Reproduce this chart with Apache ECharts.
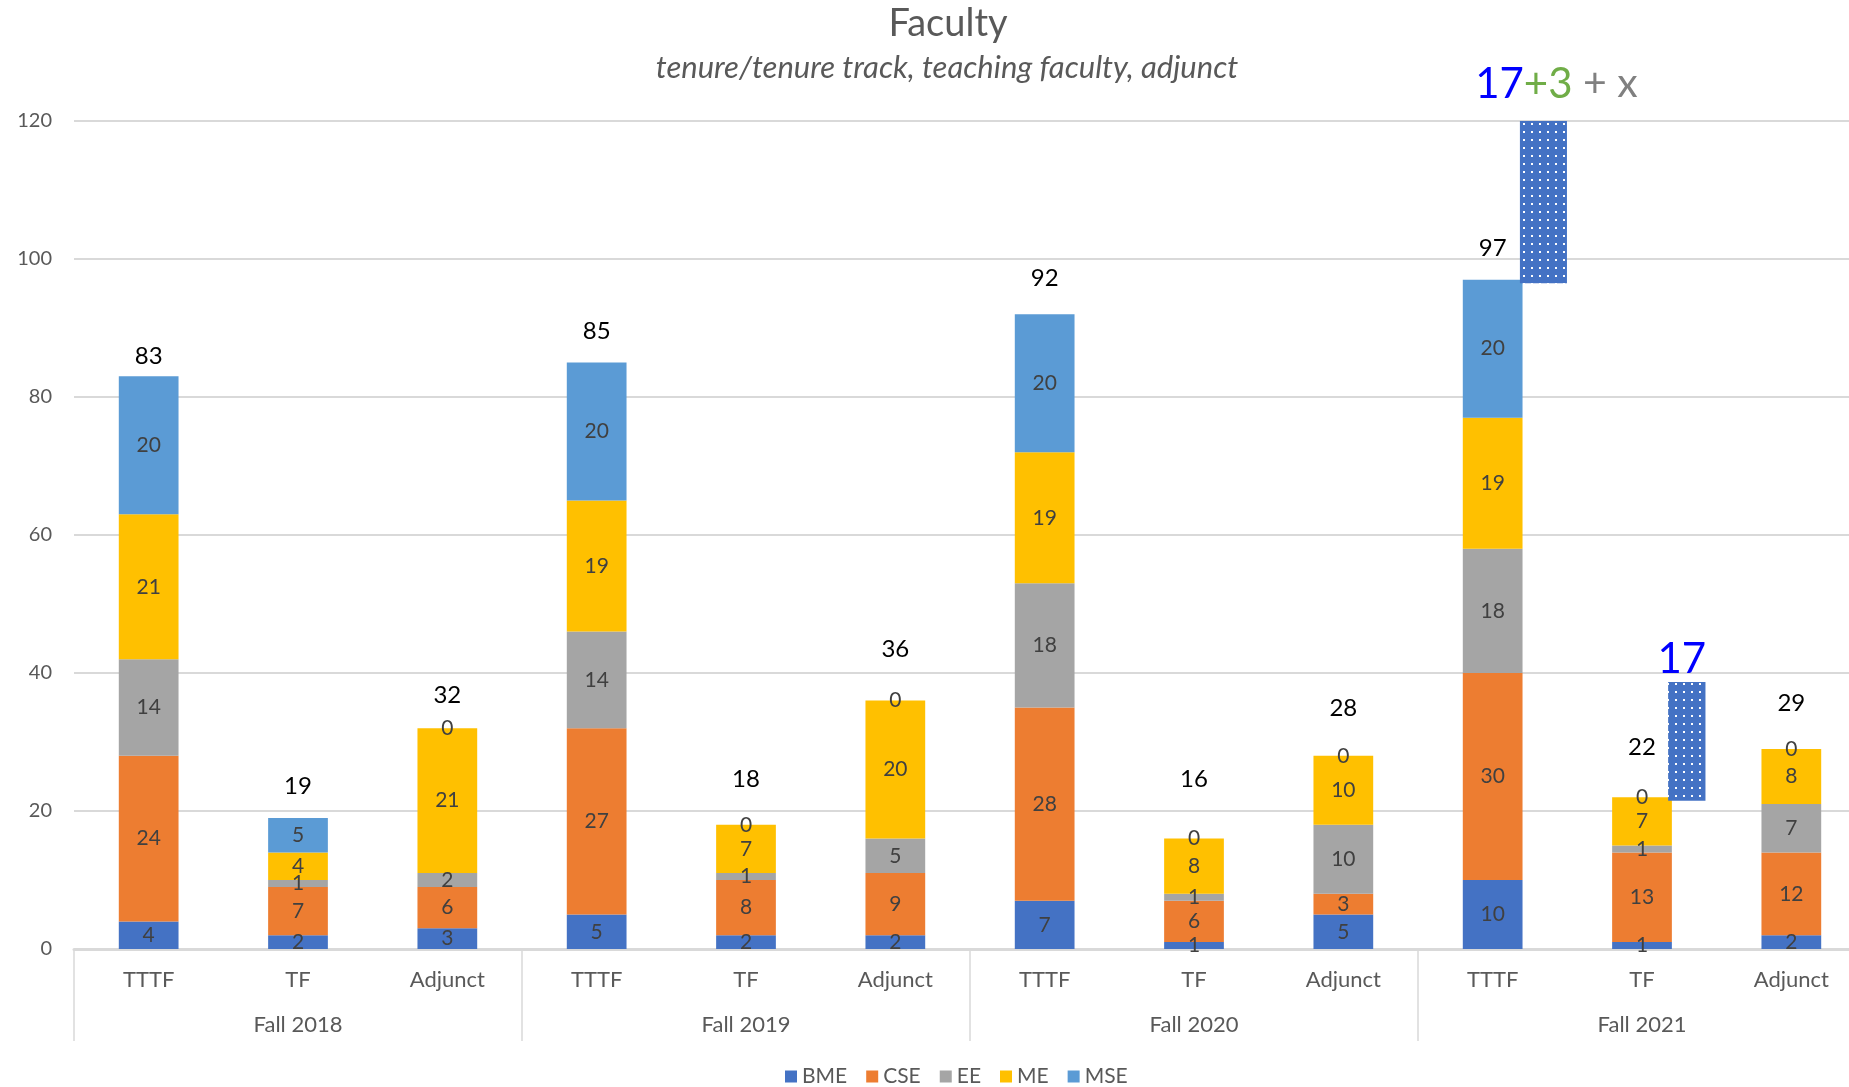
<!DOCTYPE html>
<html>
<head>
<meta charset="utf-8">
<title>Faculty</title>
<script src="https://cdn.jsdelivr.net/npm/echarts@6.0.0/dist/echarts.min.js"></script>
<style>
  html, body { margin: 0; padding: 0; background: #fff; overflow: hidden; }
  #main { width: 1849px; height: 1087px; }
</style>
</head>
<body>
<div id="main"></div>
<script>
// categories
var types = ['TTTF', 'TF', 'Adjunct', 'TTTF', 'TF', 'Adjunct', 'TTTF', 'TF', 'Adjunct', 'TTTF', 'TF', 'Adjunct'];
var terms = ['Fall 2018', 'Fall 2019', 'Fall 2020', 'Fall 2021'];
var depts = ['BME', 'CSE', 'EE', 'ME', 'MSE'];

// values per department, one per bar above
var bme = [4, 2, 3, 5, 2, 2, 7, 1, 5, 10, 1, 2];
var cse = [24, 7, 6, 27, 8, 9, 28, 6, 3, 30, 13, 12];
var ee  = [14, 1, 2, 14, 1, 5, 18, 1, 10, 18, 1, 7];
var me  = [21, 4, 21, 19, 7, 20, 19, 8, 10, 19, 7, 8];
var mse = [20, 5, 0, 20, 0, 0, 20, 0, 0, 20, 0, 0];
var totals = [83, 19, 32, 85, 18, 36, 92, 16, 28, 97, 22, 29];

// dotted "new hires" bars for Fall 2021
var dotCat  = [9, 10];
var dotFrom = [96.5, 21.5];
var dotTo   = [120, 38.7];
var dotNote = ['{b|17}{g|+3}{x| + x}', '{b|17}'];

var colors = ['#4472C4', '#ED7D31', '#A5A5A5', '#FFC000', '#5B9BD5'];
var font = 'Lato, "Open Sans", sans-serif';

// how far each total sits above its stack (px)
var totalLift = [8, 20, 21, 19, 34, 39, 24, 47, 36, 19, 38, 34];

// style of the dotted bars: width and shift as share of category width, note offsets
var dotStyle = [
    { w: 0.315, shift: 0.34, gap: 16, dx: 13 },
    { w: 0.25, shift: 0.30, gap: 2, dx: -5 }
];

var myChart = echarts.init(document.getElementById('main'));

// dotted pattern
var pat = document.createElement('canvas');
pat.width = 8;
pat.height = 8;
var pctx = pat.getContext('2d');
pctx.fillStyle = '#4472C4';
pctx.fillRect(0, 0, 8, 8);
pctx.fillStyle = '#ffffff';
pctx.fillRect(3, 3, 2, 2);

var deptData = [bme, cse, ee, me, mse];
var series = [];

for (var k = 0; k < depts.length; k++) {
    series.push({
        name: depts[k],
        type: 'bar',
        stack: 'all',
        barWidth: '40%',
        itemStyle: { color: colors[k] },
        label: {
            show: true,
            position: 'inside',
            color: '#404040',
            fontSize: 21,
            fontFamily: font
        },
        data: deptData[k]
    });
}

// totals above each stack
series.push({
    name: 'Total',
    type: 'bar',
    stack: 'all',
    barWidth: '40%',
    itemStyle: { color: 'transparent' },
    label: {
        show: true,
        position: 'top',
        color: '#000',
        fontSize: 24,
        fontFamily: font,
        formatter: function (p) { return totals[p.dataIndex]; }
    },
    data: totals.map(function (t, i) {
        return { value: 0, label: { distance: totalLift[i] } };
    })
});

// dotted bars
series.push({
    name: 'new',
    type: 'custom',
    clip: false,
    z: 5,
    encode: { x: 0, y: [1, 2] },
    data: dotCat.map(function (c, i) { return [c, dotFrom[i], dotTo[i]]; }),
    renderItem: function (params, api) {
        var i = params.dataIndex;
        var st = dotStyle[i];
        var lo = api.coord([api.value(0), api.value(1)]);
        var hi = api.coord([api.value(0), api.value(2)]);
        var cw = api.size([1, 0])[0];
        var w = cw * st.w;
        var cx = lo[0] + cw * st.shift;
        return {
            type: 'group',
            children: [{
                type: 'rect',
                shape: { x: cx - w / 2, y: hi[1], width: w, height: lo[1] - hi[1] },
                style: { fill: { image: pat, repeat: 'repeat' } }
            }, {
                type: 'text',
                x: cx + st.dx,
                y: hi[1] - st.gap,
                style: {
                    text: dotNote[i],
                    align: 'center',
                    verticalAlign: 'bottom',
                    fontFamily: font,
                    rich: {
                        b: { fontSize: 42, fontFamily: font, fill: '#0000FF' },
                        g: { fontSize: 42, fontFamily: font, fill: '#70AD47' },
                        x: { fontSize: 41, fontFamily: font, fill: '#808080' }
                    }
                }
            }]
        };
    }
});

var option = {
    animation: false,
    color: colors,
    graphic: [{
        type: 'text',
        x: 948,
        y: 24,
        style: {
            text: 'Faculty',
            fill: '#595959',
            font: '38px ' + font,
            align: 'center',
            verticalAlign: 'middle'
        }
    }, {
        type: 'text',
        x: 947,
        y: 68,
        style: {
            text: 'tenure/tenure track, teaching faculty, adjunct',
            fill: '#595959',
            font: 'italic 31px ' + font,
            align: 'center',
            verticalAlign: 'middle'
        }
    }],
    legend: {
        data: depts,
        bottom: -5,
        left: 780,
        icon: 'rect',
        itemWidth: 12,
        itemHeight: 12,
        itemGap: 19,
        textStyle: { color: '#595959', fontSize: 21, fontFamily: font }
    },
    grid: {
        left: 74,
        top: 121,
        width: 1792,
        bottom: 138,
        outerBoundsMode: 'none',
        containLabel: false
    },
    xAxis: [{
        type: 'category',
        data: types,
        axisLine: { lineStyle: { color: '#D9D9D9', width: 3 } },
        axisTick: { show: false },
        axisLabel: { color: '#595959', fontSize: 22, fontFamily: font, margin: 20 }
    }, {
        type: 'category',
        data: terms,
        position: 'bottom',
        axisLine: { show: false },
        axisTick: { show: true, length: 92, lineStyle: { color: '#D9D9D9', width: 1.5 } },
        axisLabel: { color: '#595959', fontSize: 22, fontFamily: font, margin: 65 }
    }],
    yAxis: {
        type: 'value',
        min: 0,
        max: 120,
        interval: 20,
        axisLine: { show: false },
        axisTick: { show: false },
        splitLine: { lineStyle: { color: '#D9D9D9', width: 2 } },
        axisLabel: { color: '#595959', fontSize: 20, fontFamily: font, margin: 22 }
    },
    series: series
};

myChart.setOption(option);
</script>
</body>
</html>
